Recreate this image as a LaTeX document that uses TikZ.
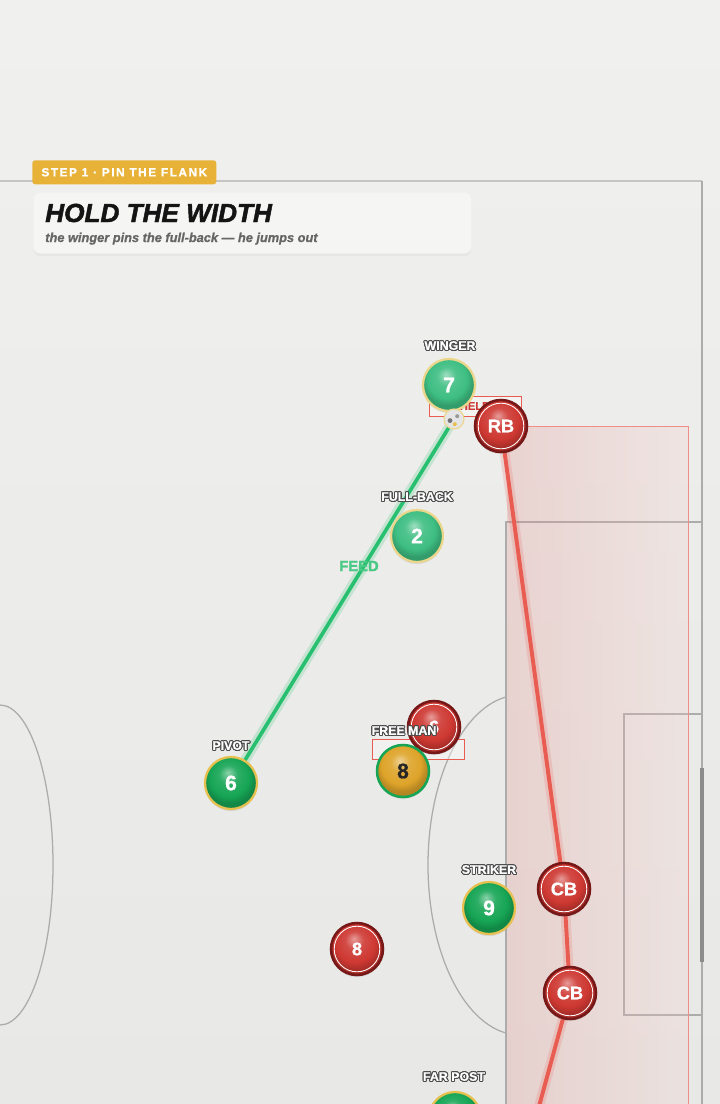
\documentclass[tikz,border=0pt]{standalone}
\usepackage{fontspec}
\setmainfont{Liberation Sans}
\newfontfamily\heavyfont{Liberation Sans}[FakeBold=1.8]
\newfontfamily\blackfont{Liberation Sans}[FakeBold=0.8]
\usepackage{contour}
\contourlength{0.7pt}
\contournumber{16}
\usetikzlibrary{shadows}

\definecolor{pitchbg}{RGB}{232,233,230}
\definecolor{pitchtop}{RGB}{240,240,238}
\definecolor{linegray}{RGB}{172,172,172}
\definecolor{mate}{RGB}{22,165,85}
\definecolor{matelight}{RGB}{62,190,130}
\definecolor{ringgold}{RGB}{232,192,80}
\definecolor{ringpale}{RGB}{236,214,140}
\definecolor{foe}{RGB}{206,56,50}
\definecolor{foedark}{RGB}{118,24,24}
\definecolor{runred}{RGB}{232,92,82}
\definecolor{passgreen}{RGB}{40,192,112}
\definecolor{tagyellow}{RGB}{232,178,56}
\definecolor{freeyellow}{RGB}{222,164,42}

\makeatletter
\pgfdeclareradialshading[tikz@ball]{gloss}{\pgfqpoint{-3bp}{10bp}}{%
    color(0bp)=(tikz@ball!50!white);
    color(9bp)=(tikz@ball!90!white);
    color(19bp)=(tikz@ball);
    color(25bp)=(tikz@ball!82!black);
    color(50bp)=(tikz@ball!82!black)}
\tikzset{gloss/.code={\pgfutil@colorlet{tikz@ball}{#1}\def\tikz@shading{gloss}\tikz@addmode{\tikz@mode@shadetrue}}}
\makeatother

\pgfdeclarelayer{background}
\pgfsetlayers{background,main}

\tikzset{
    player/.style={circle, minimum size=1.3cm, inner sep=0pt, text=white,
        font=\blackfont\fontsize{15}{15}\selectfont\bfseries,
        drop shadow={opacity=.18, shadow xshift=0pt, shadow yshift=-1.5pt}},
    mate/.style={player, gloss=mate, draw=ringgold, line width=1.6pt},
    wide/.style={player, gloss=matelight, draw=ringpale, line width=1.6pt},
    foe/.style={player, gloss=foe, draw=foedark, line width=1.8pt,
        font=\blackfont\fontsize{13}{13}\selectfont\bfseries,
        path picture={\draw[white, line width=.6pt] (path picture bounding box.center) circle (.57cm);}},
    spare/.style={player, gloss=freeyellow, draw=mate, line width=1.8pt, text=black!85},
    role/.style={text=white, inner sep=0pt, font=\blackfont\fontsize{8.8}{8.8}\selectfont\bfseries},
    flag/.style={rectangle, draw=runred, line width=.7pt, fill=white, fill opacity=.35, text opacity=1,
        minimum width=2.3cm, minimum height=.5cm, inner sep=0pt, text=foe,
        font=\blackfont\fontsize{8}{8}\selectfont\bfseries},
    pitch line/.style={draw=linegray, line width=.9pt},
    runline/.style={draw=runred, line width=2.8pt, line cap=round},
    passline/.style={draw=passgreen, line width=2.6pt, line cap=round},
}

\begin{document}
\begin{tikzpicture}[x=.025cm, y=-.025cm]
    \useasboundingbox (0,0) rectangle (720,1104);

    % header
    \node[rectangle, fill=tagyellow, rounded corners=2pt, anchor=north west, minimum width=4.6cm, minimum height=.6cm,
        text=white, font=\blackfont\fontsize{8.4}{8.4}\selectfont\bfseries\addfontfeatures{LetterSpace=13}] (step) at (32,160) {STEP 1 · PIN THE FLANK};
    \node[rectangle, fill=white!55!pitchbg, draw=black!6, rounded corners=5pt, anchor=north west, minimum width=10.95cm, minimum height=1.525cm,
        drop shadow={opacity=.07, shadow xshift=0pt, shadow yshift=-2pt}] (card) at (33,192) {};
    \node[anchor=base west, inner sep=0pt, text=black!92, font=\heavyfont\fontsize{18.6}{18.6}\selectfont\bfseries\itshape] (title) at (45,222) {HOLD THE WIDTH};
    \node[anchor=base west, inner sep=0pt, text=black!60, font=\blackfont\fontsize{9.1}{9.1}\selectfont\bfseries\itshape] (subtitle) at (45,242) {the winger pins the full-back — he jumps out};

    % boxes behind the players
    \node[flag] (heldbox) at (475,406) {HELD};
    \node[flag] (freebox) at (418,749.5) {};

    % red players
    \node[foe] (rb) at (501,426) {RB};
    \node[foe] (redsix) at (434,727) {6};
    \node[foe] (cbtop) at (564,889) {CB};
    \node[foe] (cbbot) at (570,993) {CB};
    \node[foe] (redeight) at (357,949) {8};

    % green players
    \node[wide] (winger) at (449,385) {7};
    \node[wide] (fullback) at (417,536) {2};
    \node[mate] (pivot) at (231,783) {6};
    \node[mate] (striker) at (489,908) {9};
    \node[mate] (farpost) at (455,1118) {};
    \node[spare] (freeman) at (403,771) {8};

    % ball
    \node[circle, minimum size=.5cm, inner sep=0pt, fill=white!90!black, draw=ringpale, line width=.8pt,
        path picture={
            \fill[black!55] ([shift={(-.1cm,-.04cm)}]path picture bounding box.center) circle (.06cm);
            \fill[black!40] ([shift={(.08cm,.07cm)}]path picture bounding box.center) circle (.05cm);
            \fill[ringgold] ([shift={(.02cm,-.13cm)}]path picture bounding box.center) circle (.05cm);
        }] (ball) at (454,419) {};

    % role labels
    \node[role] (lblwinger) at (450,346) {\contour{black!70}{WINGER}};
    \node[role] (lblfullback) at (417,497) {\contour{black!70}{FULL-BACK}};
    \node[role] (lblfreeman) at (404,731) {\contour{black!70}{FREE MAN}};
    \node[role] (lblpivot) at (231,746) {\contour{black!70}{PIVOT}};
    \node[role] (lblstriker) at (489,870) {\contour{black!70}{STRIKER}};
    \node[role] (lblfarpost) at (454,1077) {\contour{black!70}{FAR POST}};
    \node[text=passgreen!85!white, inner sep=0pt, font=\heavyfont\fontsize{10.5}{10.5}\selectfont\bfseries] (feed) at (359,566) {FEED};

    \coordinate (runend) at (538,1110);

    \begin{pgfonlayer}{background}
        \shade[top color=pitchtop, bottom color=pitchbg] (0,0) rectangle (720,1104);

        % pitch
        \draw[pitch line, draw=linegray!70] (0,181) -- (702,181);
        \draw[pitch line] (702,181) -- (702,1104);
        \draw[pitch line] (506,1104) -- (506,522) -- (702,522);
        \draw[pitch line] (702,714) -- (624,714) -- (624,1015) -- (702,1015);
        \draw[line width=2.4pt, draw=black!45] (702,768) -- (702,962);
        \draw[pitch line] (0,865) ellipse (53 and 160);
        \begin{scope}
            \clip (0,0) rectangle (506,1104);
            \draw[pitch line] (520,865) ellipse (92 and 170);
        \end{scope}

        % pressing zone
        \shade[left color=foe!60!white, right color=foe!25!white, fill opacity=.25] (507,426) rectangle (688,1104);
        \draw[runred!70, line width=.5pt] (507,426) -- (688,426) -- (688,1104);

        % runs and passes
        \draw[runline, line width=7pt, opacity=.18] (rb) -- (cbtop) -- (cbbot) -- (runend);
        \draw[runline] (rb) -- (cbtop) -- (cbbot) -- (runend);
        \draw[passline, line width=7pt, opacity=.2] (ball) -- (pivot);
        \draw[passline] (ball) -- (pivot);
    \end{pgfonlayer}
\end{tikzpicture}
\end{document}
